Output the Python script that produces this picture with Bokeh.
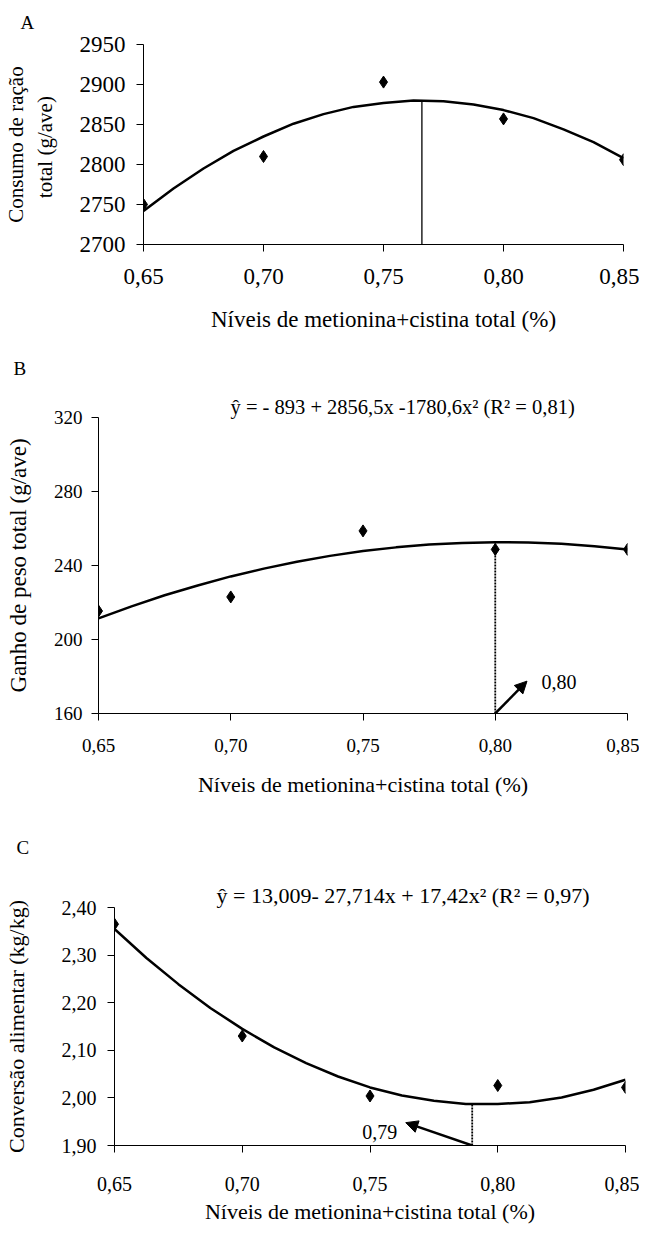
from bokeh.plotting import figure
from bokeh.layouts import column
from bokeh.models import (Range1d, FixedTicker, CustomJSTickFormatter, Label, Title,
                          Arrow, NormalHead)
from bokeh.embed import file_html
from bokeh.resources import INLINE

FONT = "Liberation Serif"

# ---------------- data ----------------
x_levels = [0.65, 0.70, 0.75, 0.80, 0.85]
x_tick_labels = ["0,65", "0,70", "0,75", "0,80", "0,85"]

consumo = [2750, 2810, 2903, 2857, 2806]
ganho = [215.4, 223.0, 258.7, 248.7, 248.7]
conversao = [2.365, 2.130, 2.004, 2.026, 2.022]

curve_x = [0.65, 0.6625, 0.675, 0.6875, 0.70, 0.7125, 0.725, 0.7375, 0.75,
           0.7625, 0.775, 0.7875, 0.80, 0.8125, 0.825, 0.8375, 0.85]
consumo_fit = [2742, 2770, 2795, 2817, 2835, 2851, 2863, 2872, 2877,
               2880, 2879, 2875, 2868, 2858, 2844, 2828, 2808]
ganho_fit = [211.4, 217.9, 223.9, 229.2, 234.1, 238.3, 242.0, 245.2, 247.8,
             249.8, 251.3, 252.2, 252.6, 252.4, 251.7, 250.4, 248.6]
conversao_fit = [2.355, 2.294, 2.239, 2.189, 2.145, 2.106, 2.073, 2.045, 2.022,
                 2.005, 1.994, 1.987, 1.987, 1.991, 2.001, 2.017, 2.038]

consumo_ticks = [2700, 2750, 2800, 2850, 2900, 2950]
consumo_tick_labels = ["2700", "2750", "2800", "2850", "2900", "2950"]
ganho_ticks = [160, 200, 240, 280, 320]
ganho_tick_labels = ["160", "200", "240", "280", "320"]
conversao_ticks = [1.90, 2.00, 2.10, 2.20, 2.30, 2.40]
conversao_tick_labels = ["1,90", "2,00", "2,10", "2,20", "2,30", "2,40"]

optimum_A = 0.766
optimum_A_y = 2880
optimum_B = 0.80
optimum_B_y = 252.6
optimum_C = 0.79
optimum_C_y = 1.987

x_title = "Níveis de metionina+cistina total (%)"
eq_B = "ŷ = - 893 + 2856,5x -1780,6x² (R² = 0,81)"
eq_C = "ŷ = 13,009- 27,714x + 17,42x² (R² = 0,97)"

LOOKUP = """
let best = 0; let bd = Infinity;
for (let i = 0; i < tvals.length; i++) {
  const d = Math.abs(tvals[i] - tick);
  if (d < bd) { bd = d; best = i; }
}
return tlabels[best];
"""


def fmt(tv, tl):
    return CustomJSTickFormatter(args=dict(tvals=tv, tlabels=tl), code=LOOKUP)


def make_fig(height, yr, yticks, ylabels, left, right, top, bottom,
             tick_px, ylab, ylab_px, x_std, x_lab_std, y_std, y_lab_std):
    p = figure(width=639, height=height, x_range=Range1d(0.65, 0.85),
               y_range=Range1d(*yr), output_backend="svg", toolbar_location=None,
               min_border_left=left, min_border_right=right,
               min_border_top=top, min_border_bottom=bottom)
    p.frame_align = False
    p.outline_line_color = None
    p.grid.visible = False
    p.background_fill_color = "white"
    p.border_fill_color = "white"
    for ax in (p.xaxis[0], p.yaxis[0]):
        ax.axis_line_color = "black"
        ax.axis_line_width = 1
        ax.major_tick_line_color = "black"
        ax.major_tick_in = 0
        ax.major_tick_out = 7
        ax.minor_tick_line_color = None
        ax.major_label_text_font = FONT
        ax.major_label_text_font_size = tick_px
        ax.major_label_text_color = "black"
        ax.axis_label_text_font = FONT
        ax.axis_label_text_font_style = "normal"
        ax.axis_label_text_color = "black"
    p.xaxis[0].ticker = FixedTicker(ticks=x_levels)
    p.xaxis[0].formatter = fmt(x_levels, x_tick_labels)
    p.xaxis[0].axis_label = x_title
    p.xaxis[0].axis_label_text_font_size = "22px"
    p.xaxis[0].major_label_standoff = x_std
    p.xaxis[0].axis_label_standoff = x_lab_std
    p.yaxis[0].ticker = FixedTicker(ticks=yticks)
    p.yaxis[0].formatter = fmt(yticks, ylabels)
    p.yaxis[0].axis_label = ylab
    p.yaxis[0].axis_label_text_font_size = ylab_px
    p.yaxis[0].major_label_standoff = y_std
    p.yaxis[0].axis_label_standoff = y_lab_std
    return p


def top_text(p, text, size, offset, standoff, valign):
    p.add_layout(Title(text=text, text_font=FONT, text_font_size=size,
                       text_font_style="normal", text_color="black", align="left",
                       offset=offset, standoff=standoff, vertical_align=valign), "above")


# ---------------- Panel A ----------------
pA = make_fig(342, (2700, 2950), consumo_ticks, consumo_tick_labels,
              137, 16, 44, 98, "23px", "Consumo de ração\ntotal  (g/ave)", "21px",
              17, 20, 11, 20)
pA.xaxis[0].axis_label_text_font_size = "23px"
pA.line(curve_x, consumo_fit, line_color="black", line_width=2.5)
pA.segment(x0=[optimum_A], y0=[2700], x1=[optimum_A], y1=[optimum_A_y],
           line_color="black", line_width=1.3)
pA.scatter(x_levels, consumo, marker="diamond", size=12, color="black")
top_text(pA, "A", "19px", -123, 20, "top")

# ---------------- Panel B ----------------
pB = make_fig(466, (160, 320), ganho_ticks, ganho_tick_labels,
              98, 12, 75, 95, "19px", "Ganho de peso total (g/ave)", "23px",
              18, 17, 9, 20)
pB.line(curve_x, ganho_fit, line_color="black", line_width=2.5)
pB.segment(x0=[optimum_B], y0=[160], x1=[optimum_B], y1=[optimum_B_y],
           line_color="black", line_width=1.8, line_dash="2 1")
pB.scatter(x_levels, ganho, marker="diamond", size=12, color="black")
pB.add_layout(Arrow(end=NormalHead(size=12, fill_color="black", line_color="black"),
                    x_start=0.80, y_start=160, x_end=0.812, y_end=177.5,
                    line_color="black", line_width=2.5))
pB.add_layout(Label(x=0.8175, y=176.8, text="0,80", text_font=FONT, text_font_size="20px",
                    text_align="left", text_baseline="middle", text_color="black"))
top_text(pB, eq_B, "20.5px", 132, 0, "bottom")
top_text(pB, "B", "19px", -85, 26, "top")

# ---------------- Panel C ----------------
pC = make_fig(418, (1.90, 2.40), conversao_ticks, conversao_tick_labels,
              113, 14, 99, 81, "20px", "Conversão alimentar (kg/kg)", "22px",
              24, 5, 11, 30)
pC.line(curve_x, conversao_fit, line_color="black", line_width=2.5)
pC.segment(x0=[optimum_C], y0=[1.90], x1=[optimum_C], y1=[optimum_C_y],
           line_color="black", line_width=1.8, line_dash="2 1")
pC.scatter(x_levels, conversao, marker="diamond", size=12, color="black")
pC.add_layout(Arrow(end=NormalHead(size=12, fill_color="black", line_color="black"),
                    x_start=0.79, y_start=1.90, x_end=0.764, y_end=1.948,
                    line_color="black", line_width=2.5))
pC.add_layout(Label(x=0.7607, y=1.929, text="0,79", text_font=FONT, text_font_size="20px",
                    text_align="right", text_baseline="middle", text_color="black"))
top_text(pC, eq_C, "22px", 102, 0, "bottom")
top_text(pC, "C", "19px", -98, 45, "bottom")

layout = column(pA, pB, pC, spacing=0)
open("out.html", "w").write(file_html(layout, INLINE))
